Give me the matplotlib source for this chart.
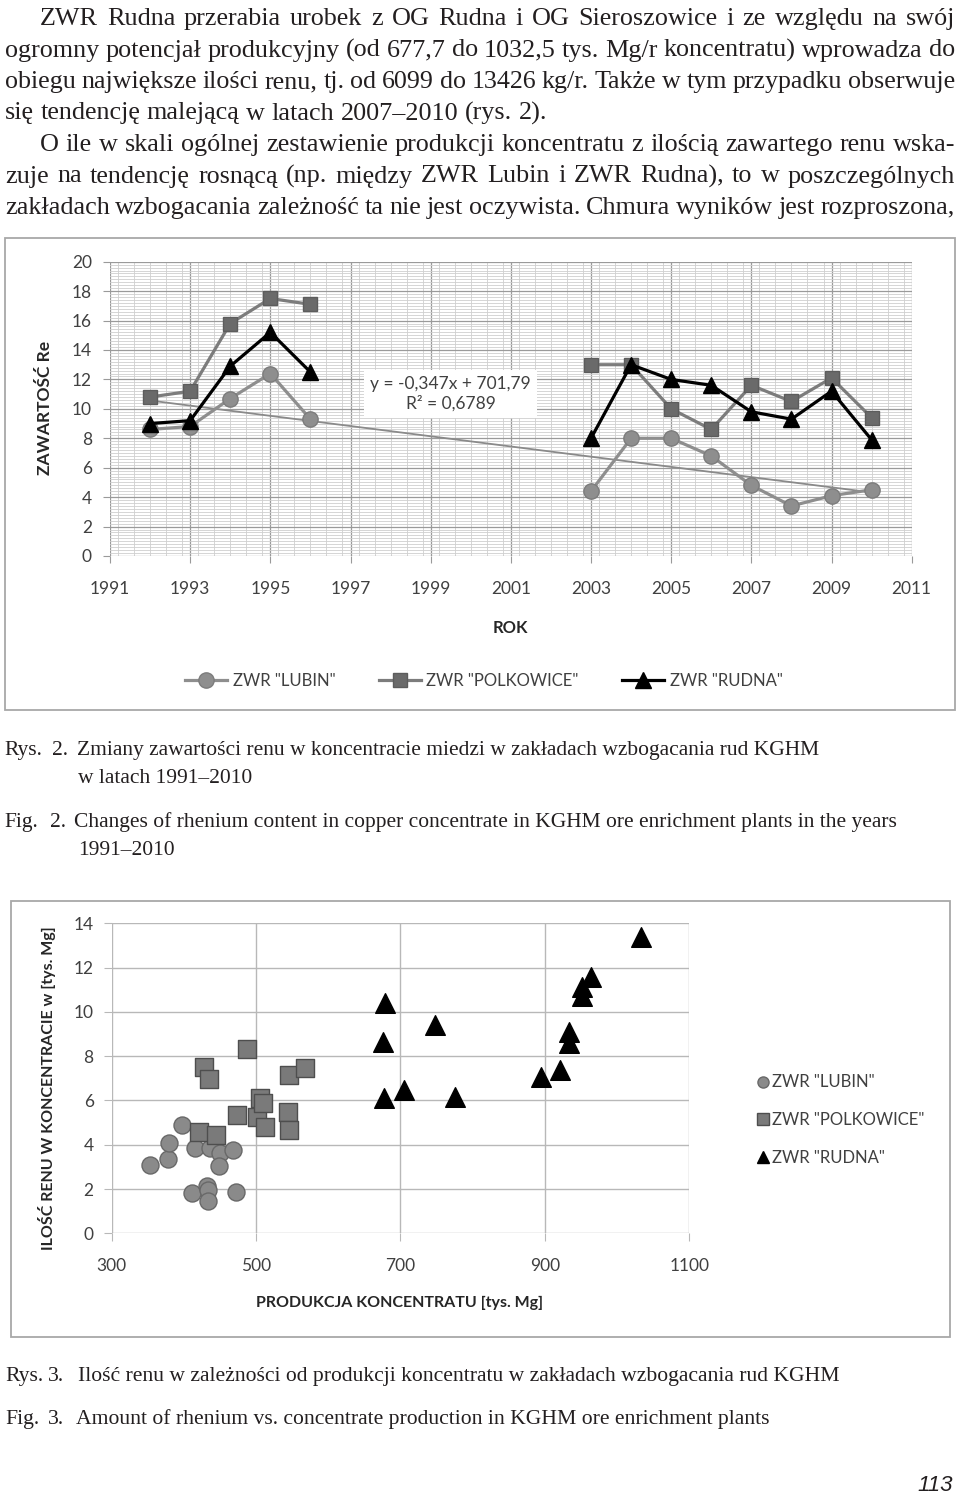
import numpy as np
import matplotlib
matplotlib.use('Agg')
import matplotlib.pyplot as plt
from matplotlib.lines import Line2D
from matplotlib.patches import Rectangle
from matplotlib.ticker import MultipleLocator

# ---------------- data ----------------
nan = np.nan
years = [1992, 1993, 1994, 1995, 1996, 1997, 1998, 1999, 2000, 2001,
         2002, 2003, 2004, 2005, 2006, 2007, 2008, 2009, 2010]
lubin_re = [8.6, 8.8, 10.7, 12.4, 9.3, nan, nan, nan, nan, nan,
            nan, 4.4, 8.0, 8.0, 6.8, 4.8, 3.4, 4.1, 4.5]
polk_re = [10.8, 11.2, 15.8, 17.5, 17.1, nan, nan, nan, nan, nan,
           nan, 13.0, 13.0, 10.0, 8.6, 11.6, 10.5, 12.1, 9.4]
rudna_re = [9.0, 9.2, 12.9, 15.2, 12.5, nan, nan, nan, nan, nan,
            nan, 8.0, 13.0, 12.0, 11.6, 9.8, 9.3, 11.2, 7.9]
trend_slope = -0.347
trend_intercept = 701.79
trend_years = [1992, 2010]
trend_label = "y = -0,347x + 701,79\nR² = 0,6789"
year_ticks = [1991, 1993, 1995, 1997, 1999, 2001, 2003, 2005, 2007, 2009, 2011]

lubin_prod = [353, 378, 380, 397, 415, 411, 432, 434, 434, 436, 450, 448, 468, 472]
lubin_amt = [3.07, 3.34, 4.08, 4.89, 3.86, 1.83, 2.12, 1.95, 1.47, 3.84, 3.62, 3.05, 3.75, 1.88]
polk_prod = [428, 435, 487, 421, 445, 473, 501, 505, 510, 513, 546, 568, 544, 545]
polk_amt = [7.53, 6.95, 8.31, 4.57, 4.44, 5.34, 5.27, 6.10, 5.87, 4.79, 7.15, 7.45, 5.49, 4.67]
rudna_prod = [679, 676, 677, 705, 748, 775, 1033, 964, 951, 951, 933, 933, 921, 894]
rudna_amt = [10.38, 8.65, 6.10, 6.47, 9.40, 6.17, 13.40, 11.56, 11.14, 10.72, 9.10, 8.58, 7.38, 7.05]

series_names = ['ZWR "LUBIN"', 'ZWR "POLKOWICE"', 'ZWR "RUDNA"']

body_lines = [
    ("ZWR Rudna przerabia urobek z OG Rudna i OG Sieroszowice i ze względu na swój", 40, True),
    ("ogromny potencjał produkcyjny (od 677,7 do 1032,5 tys. Mg/r koncentratu) wprowadza do", 5, True),
    ("obiegu największe ilości renu, tj. od 6099 do 13426 kg/r. Także w tym przypadku obserwuje", 5, True),
    ("się tendencję malejącą w latach 2007–2010 (rys. 2).", 5, False),
    ("O ile w skali ogólnej zestawienie produkcji koncentratu z ilością zawartego renu wska-", 40, True),
    ("zuje na tendencję rosnącą (np. między ZWR Lubin i ZWR Rudna), to w poszczególnych", 5, True),
    ("zakładach wzbogacania zależność ta nie jest oczywista. Chmura wyników jest rozproszona,", 5, True),
]

# ---------------- figure ----------------
W, H = 960, 1494
fig = plt.figure(figsize=(W / 100, H / 100), dpi=100)
fig.patch.set_facecolor('white')
renderer = fig.canvas.get_renderer()

SERIF = 'Liberation Serif'
CF = 'Lato'
INK = '#231f20'


def fx(x):
    return x / W


def fy(y):
    return 1 - y / H


def axes_px(l, t, r, b):
    return fig.add_axes([l / W, 1 - b / H, (r - l) / W, (b - t) / H])


def text_width(s, size):
    t = fig.text(0, 0, s, fontsize=size, family=SERIF)
    w = t.get_window_extent(renderer).width
    t.remove()
    return w


def justified(line, x0, x1, y, size, justify=True):
    words = line.split(' ')
    space = text_width('a a', size) - text_width('aa', size)
    while justify:
        natural = sum(text_width(w, size) for w in words)
        gap = (x1 - x0 - natural) / (len(words) - 1)
        if gap >= 0.85 * space:
            break
        size -= 0.1
    ts = [fig.text(0, fy(y), w, fontsize=size, family=SERIF, color=INK,
                   va='baseline', ha='left') for w in words]
    widths = [t.get_window_extent(renderer).width for t in ts]
    if justify and len(words) > 1:
        gap = (x1 - x0 - sum(widths)) / (len(words) - 1)
    else:
        gap = space
    x = x0
    for t, w in zip(ts, widths):
        t.set_x(fx(x))
        x += w + gap


# body text
base0 = 25
for i, (line, x0, just) in enumerate(body_lines):
    justified(line, x0, 955, base0 + 31.5 * i, 18.8, just)


def caption(x, y, s, size=15.5):
    return fig.text(fx(x), fy(y), s, fontsize=size, family=SERIF, color=INK,
                    va='baseline', ha='left')


# captions for figure 2
caption(4, 755, "Rys.")
caption(52, 755, "2.")
caption(77, 755, "Zmiany zawartości renu w koncentracie miedzi w zakładach wzbogacania rud KGHM")
caption(78, 783, "w latach 1991–2010")
caption(4, 827, "Fig.")
caption(50, 827, "2.")
caption(74, 827, "Changes of rhenium content in copper concentrate in KGHM ore enrichment plants in the years")
caption(78, 855, "1991–2010")

# captions for figure 3 (condensed in the reference -> fitted size)
rys3 = "Ilość renu w zależności od produkcji koncentratu w zakładach wzbogacania rud KGHM"
cap3_size = 15.5 * 760 / text_width(rys3, 15.5)
caption(5, 1381, "Rys.", cap3_size)
caption(48, 1381, "3.", cap3_size)
caption(78, 1381, rys3, cap3_size)
caption(5, 1424, "Fig.", cap3_size)
caption(48, 1424, "3.", cap3_size)
caption(76, 1424, "Amount of rhenium vs. concentrate production in KGHM ore enrichment plants", cap3_size)

fig.text(fx(953), fy(1491), "113", fontsize=16, family='Liberation Sans', style='italic',
         color=INK, ha='right', va='baseline')

# ---------------- chart borders ----------------
fig.patches.append(Rectangle((fx(5), fy(710)), (955 - 5) / W, (710 - 238) / H,
                             transform=fig.transFigure, fill=False,
                             edgecolor='#a8a8a8', lw=1.3))
fig.patches.append(Rectangle((fx(11), fy(1337)), (950 - 11) / W, (1337 - 901) / H,
                             transform=fig.transFigure, fill=False,
                             edgecolor='#a8a8a8', lw=1.3))

TXT = '#404040'

# ---------------- chart 1 ----------------
ax = axes_px(110, 261.7, 911.7, 556)
ax.set_xlim(1991, 2011)
ax.set_ylim(0, 20)
ax.set_xticks(year_ticks)
ax.xaxis.set_minor_locator(MultipleLocator(0.4))
ax.yaxis.set_major_locator(MultipleLocator(2))
ax.yaxis.set_minor_locator(MultipleLocator(0.2))
ax.grid(which='major', color='#9a9a9a', lw=0.9)
ax.grid(which='minor', color='#cfcfcf', lw=0.6)
ax.set_axisbelow(True)
for s in ax.spines.values():
    s.set_visible(False)
ax.tick_params(which='major', length=5, color='#9a9a9a', labelsize=12.5,
               labelcolor=TXT)
ax.tick_params(axis='x', which='major', pad=13)
ax.tick_params(axis='y', which='major', pad=8)
ax.tick_params(which='minor', length=0)
for lab in ax.get_xticklabels() + ax.get_yticklabels():
    lab.set_family(CF)

ty = [trend_slope * y + trend_intercept for y in trend_years]
ax.plot(trend_years, ty, color='#8a8a8a', lw=1.3, zorder=2)

l1, = ax.plot(years, lubin_re, color='#8e8e8e', lw=2.3, marker='o', ms=11,
              mfc='#8e8e8e', mec='#7c7c7c', label=series_names[0], zorder=3)
l2, = ax.plot(years, polk_re, color='#7c7c7c', lw=2.3, marker='s', ms=9.5,
              mfc='#6a6a6a', mec='#5c5c5c', label=series_names[1], zorder=3)
l3, = ax.plot(years, rudna_re, color='#000000', lw=2.3, marker='^', ms=11,
              mfc='#000000', mec='#000000', label=series_names[2], zorder=4)

ax.text(1999.5, 11.0, trend_label, ha='center', va='center', fontsize=12.5,
        family=CF, color=TXT, linespacing=1.25, zorder=5,
        bbox=dict(boxstyle='square,pad=0.35', fc='white', ec='none'))

fig.text(fx(510), fy(628), "ROK", fontsize=12, family=CF, weight='bold',
         color='#262626', ha='center', va='center')
fig.text(fx(45), fy(408), "ZAWARTOŚĆ Re", fontsize=12.5, family=CF, weight='bold',
         color='#262626', ha='center', va='center', rotation=90)

leg1 = fig.legend(handles=[l1, l2, l3], loc='center', bbox_to_anchor=(fx(484), fy(681)),
                  ncol=3, frameon=False, handlelength=2.5,
                  columnspacing=2.6, handletextpad=0.35,
                  prop={'family': CF, 'size': 12})
for t in leg1.get_texts():
    t.set_color(TXT)

# ---------------- chart 2 ----------------
ax2 = axes_px(111.7, 923.3, 689.3, 1233.3)
ax2.set_xlim(300, 1100)
ax2.set_ylim(0, 14)
ax2.set_xticks([300, 500, 700, 900, 1100])
ax2.set_yticks(range(0, 15, 2))
ax2.grid(color='#b8b8b8', lw=1.0)
ax2.set_axisbelow(True)
for s in ax2.spines.values():
    s.set_visible(False)
ax2.tick_params(length=6, color='#b8b8b8', labelsize=12.5, labelcolor=TXT)
ax2.tick_params(axis='x', pad=12)
ax2.tick_params(axis='y', pad=7)
for lab in ax2.get_xticklabels() + ax2.get_yticklabels():
    lab.set_family(CF)

s1 = ax2.scatter(lubin_prod, lubin_amt, s=150, marker='o', c='#8a8a8a',
                 edgecolors='#686868', linewidths=1.0, zorder=3, label=series_names[0])
s2 = ax2.scatter(polk_prod, polk_amt, s=150, marker='s', c='#7a7a7a',
                 edgecolors='#4e4e4e', linewidths=1.0, zorder=4, label=series_names[1])
s3 = ax2.scatter(rudna_prod, rudna_amt, s=200, marker='^', c='#000000',
                 edgecolors='#000000', linewidths=1.0, zorder=5, label=series_names[2])
for s in (s1, s2, s3):
    s.set_clip_on(False)

fig.text(fx(400), fy(1303), "PRODUKCJA KONCENTRATU [tys. Mg]", fontsize=11.5, family=CF,
         weight='bold', color='#262626', ha='center', va='center')
fig.text(fx(47), fy(1088), "ILOŚĆ RENU W KONCENTRACIE w [tys. Mg]", fontsize=11.5, family=CF,
         weight='bold', color='#262626', ha='center', va='center', rotation=90)

hl = [Line2D([], [], ls='none', marker='o', ms=8, mfc='#8a8a8a', mec='#686868'),
      Line2D([], [], ls='none', marker='s', ms=8, mfc='#7a7a7a', mec='#4e4e4e'),
      Line2D([], [], ls='none', marker='^', ms=9, mfc='#000000', mec='#000000')]
leg2 = fig.legend(handles=hl, labels=series_names, loc='center left',
                  bbox_to_anchor=(fx(741), fy(1120)), frameon=False,
                  handlelength=0.8, handletextpad=0.15, labelspacing=1.3,
                  prop={'family': CF, 'size': 12})
for t in leg2.get_texts():
    t.set_color(TXT)

fig.savefig('out.png', dpi=100, facecolor='white')
